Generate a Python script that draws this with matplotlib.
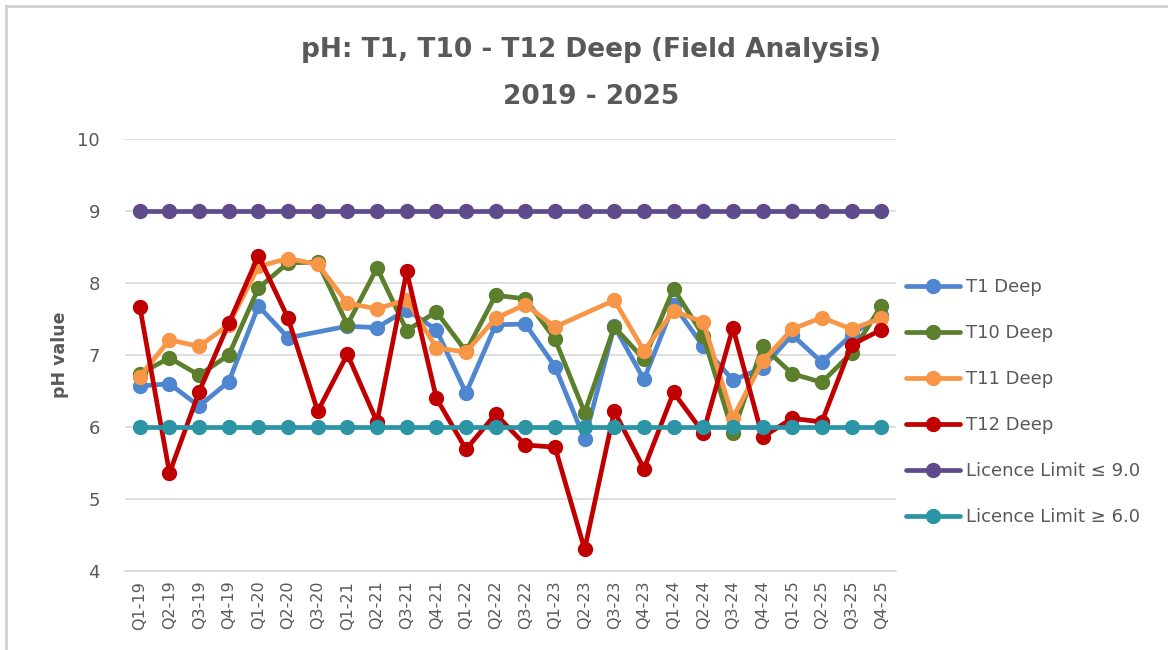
import numpy as np
import matplotlib
matplotlib.use("Agg")
import matplotlib.pyplot as plt
from matplotlib.lines import Line2D

quarters = ["Q1-19", "Q2-19", "Q3-19", "Q4-19", "Q1-20", "Q2-20", "Q3-20",
            "Q1-21", "Q2-21", "Q3-21", "Q4-21", "Q1-22", "Q2-22", "Q3-22",
            "Q1-23", "Q2-23", "Q3-23", "Q4-23", "Q1-24", "Q2-24", "Q3-24",
            "Q4-24", "Q1-25", "Q2-25", "Q3-25", "Q4-25"]

t1_deep = [6.57, 6.60, 6.29, 6.63, 7.68, 7.24, None, 7.40, 7.38, 7.63, 7.35, 6.47, 7.42,
           7.43, 6.84, 5.83, 7.40, 6.66, 7.70, 7.12, 6.65, 6.82, 7.28, 6.90, 7.28, 7.56]
t10_deep = [6.74, 6.96, 6.72, 7.00, 7.93, 8.28, 8.29, 7.42, 8.21, 7.34, 7.60, 7.05, 7.83,
            7.78, 7.22, 6.20, 7.39, 6.94, 7.92, 7.27, 5.92, 7.12, 6.74, 6.62, 7.03, 7.68]
t11_deep = [6.70, 7.21, 7.12, 7.42, 8.23, 8.34, 8.26, 7.72, 7.64, 7.77, 7.10, 7.04, 7.51,
            7.70, 7.39, None, 7.76, 7.06, 7.61, 7.46, 6.13, 6.91, 7.36, 7.52, 7.36, 7.51]
t12_deep = [7.67, 5.36, 6.49, 7.44, 8.38, 7.51, 6.22, 7.01, 6.07, 8.16, 6.40, 5.69, 6.18,
            5.75, 5.72, 4.30, 6.22, 5.42, 6.48, 5.92, 7.38, 5.86, 6.12, 6.07, 7.14, 7.35]
limit_upper = [9.0] * len(quarters)
limit_lower = [6.0] * len(quarters)

series = [
    ("T1 Deep", t1_deep, "#4F86D0"),
    ("T10 Deep", t10_deep, "#5B7F2D"),
    ("T11 Deep", t11_deep, "#F79646"),
    ("T12 Deep", t12_deep, "#C00000"),
    ("Licence Limit \u2264 9.0", limit_upper, "#5F4B8B"),
    ("Licence Limit \u2265 6.0", limit_lower, "#2B95A6"),
]

W, H = 1168, 650
fig = plt.figure(figsize=(W / 100, H / 100), dpi=100)
fig.patch.set_facecolor("white")

# left/top border lines
fig.add_artist(Line2D([6 / W, 6 / W], [0, 1 - 6 / H], transform=fig.transFigure,
                      color="#D0D0D0", lw=2))
fig.add_artist(Line2D([6 / W, 1], [1 - 6 / H, 1 - 6 / H], transform=fig.transFigure,
                      color="#D0D0D0", lw=2))

ax_left, ax_right = 125, 896
ax_top, ax_bottom = 139, 571
ax = fig.add_axes([ax_left / W, 1 - ax_bottom / H, (ax_right - ax_left) / W,
                   (ax_bottom - ax_top) / H])

x = np.arange(len(quarters))
handles = []
for i, (name, vals, col) in enumerate(series):
    arr = np.array([np.nan if v is None else v for v in vals], dtype=float)
    m = ~np.isnan(arr)
    h, = ax.plot(x[m], arr[m], color=col, lw=3.4, marker="o", ms=10,
                 solid_capstyle="round", label=name, zorder=3 + i * 0.1)
    handles.append(h)

ax.set_ylim(4, 10)
ax.set_xlim(-0.5, len(quarters) - 0.5)
ax.set_yticks(range(4, 11))
ax.set_xticks(x)
ax.set_xticklabels(quarters, rotation=90, fontsize=11.5, color="#595959",
                   family="DejaVu Sans")
ax.tick_params(axis="y", labelsize=13, labelcolor="#595959", length=0, pad=18)
ax.tick_params(axis="x", length=0, pad=7)
ax.yaxis.grid(True, color="#D9D9D9", lw=1.2)
ax.set_axisbelow(True)
for s in ["top", "right", "left"]:
    ax.spines[s].set_visible(False)
ax.spines["bottom"].set_color("#D9D9D9")
ax.spines["bottom"].set_linewidth(1.2)
for lab in ax.get_yticklabels():
    lab.set_family("DejaVu Sans")

fig.text(60 / W, 1 - 355 / H, "pH value", rotation=90, ha="center", va="center",
         fontsize=12.5, fontweight="bold", color="#595959", family="DejaVu Sans")

fig.text(591 / W, 1 - 50 / H, "pH: T1, T10 - T12 Deep (Field Analysis)", ha="center",
         va="center", fontsize=19, fontweight="bold", color="#595959", family="DejaVu Sans")
fig.text(591 / W, 1 - 97 / H, "2019 - 2025", ha="center", va="center", fontsize=19,
         fontweight="bold", color="#595959", family="DejaVu Sans")

leg = fig.legend(handles=handles, loc="upper left", bbox_to_anchor=(906 / W, 1 - 278 / H),
                 frameon=False, handlelength=3.0, handletextpad=0.35, labelspacing=1.55,
                 borderaxespad=0, borderpad=0,
                 prop={"family": "DejaVu Sans", "size": 13})
for t in leg.get_texts():
    t.set_color("#595959")

fig.savefig("out.png", dpi=100, facecolor="white")
